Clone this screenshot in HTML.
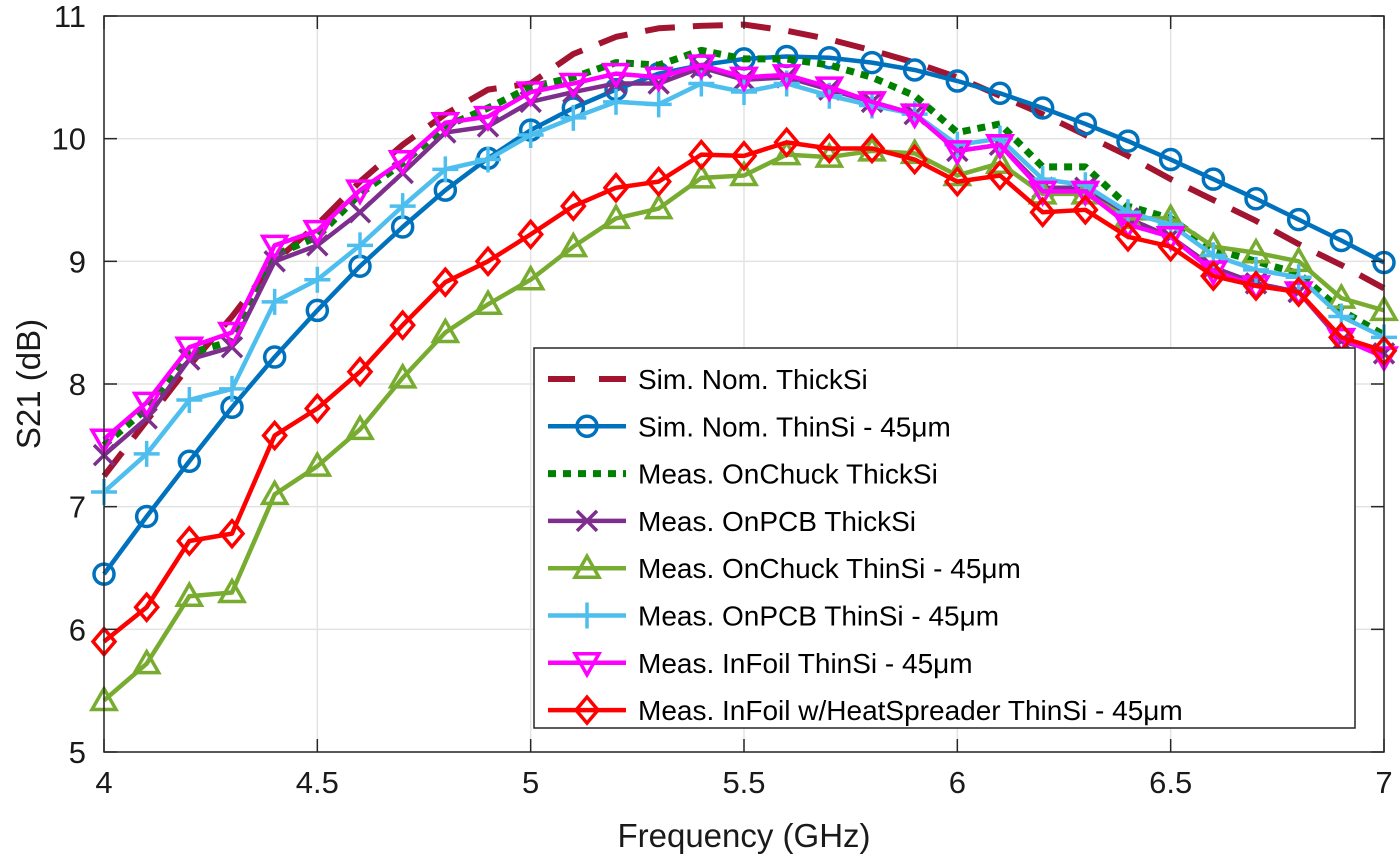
<!DOCTYPE html>
<html><head><meta charset="utf-8"><style>
html,body{margin:0;padding:0;background:#fff;}
svg{display:block;font-family:"Liberation Sans",sans-serif;}
</style></head><body>
<svg id="chart" width="1400" height="868" viewBox="0 0 1400 868" xmlns="http://www.w3.org/2000/svg">
<g id="grid"></g>
<g id="series"></g>
<g id="axes"></g>
<g id="legend"></g>
</svg>
<script>
const freqs = [4.0,4.1,4.2,4.3,4.4,4.5,4.6,4.7,4.8,4.9,5.0,5.1,5.2,5.3,5.4,5.5,5.6,5.7,5.8,5.9,6.0,6.1,6.2,6.3,6.4,6.5,6.6,6.7,6.8,6.9,7.0];
const simThick = [7.25,7.7,8.15,8.55,9.0,9.3,9.65,9.95,10.2,10.4,10.45,10.69,10.83,10.9,10.92,10.93,10.88,10.81,10.72,10.62,10.5,10.35,10.2,10.03,9.86,9.67,9.5,9.33,9.14,8.97,8.78];
const simThin = [6.45,6.92,7.37,7.81,8.22,8.6,8.96,9.28,9.58,9.84,10.07,10.25,10.4,10.53,10.6,10.65,10.67,10.66,10.62,10.56,10.47,10.37,10.25,10.12,9.98,9.83,9.67,9.51,9.34,9.17,8.99];
const chuckThick = [7.5,7.8,8.25,8.35,9.05,9.2,9.55,9.8,10.1,10.25,10.42,10.5,10.62,10.6,10.72,10.65,10.65,10.6,10.5,10.35,10.05,10.12,9.77,9.77,9.45,9.35,9.1,9.0,8.9,8.6,8.4];
const pcbThick = [7.42,7.72,8.2,8.3,9.0,9.13,9.4,9.72,10.05,10.1,10.3,10.38,10.45,10.45,10.58,10.48,10.5,10.4,10.3,10.2,9.9,9.95,9.6,9.6,9.35,9.2,8.95,8.82,8.75,8.35,8.25];
const chuckThin = [5.42,5.72,6.27,6.3,7.1,7.33,7.63,8.05,8.42,8.65,8.85,9.12,9.35,9.43,9.68,9.7,9.87,9.85,9.9,9.88,9.7,9.8,9.55,9.55,9.35,9.35,9.12,9.07,9.0,8.7,8.6];
const pcbThin = [7.12,7.43,7.87,7.96,8.67,8.85,9.13,9.45,9.75,9.83,10.03,10.17,10.3,10.28,10.45,10.38,10.45,10.35,10.27,10.2,9.95,10.0,9.67,9.62,9.4,9.3,9.05,8.93,8.87,8.55,8.38];
const foilThin = [7.55,7.85,8.3,8.42,9.13,9.25,9.58,9.82,10.13,10.18,10.38,10.45,10.53,10.5,10.6,10.5,10.52,10.42,10.3,10.2,9.9,9.95,9.57,9.57,9.3,9.2,8.92,8.8,8.75,8.37,8.22];
const foilHS = [5.9,6.18,6.72,6.78,7.58,7.8,8.1,8.48,8.83,9.0,9.22,9.45,9.6,9.65,9.87,9.86,9.97,9.92,9.92,9.83,9.65,9.7,9.4,9.42,9.2,9.12,8.88,8.8,8.75,8.38,8.27];
const xTicks = [4,4.5,5,5.5,6,6.5,7];
const xTickLabels = ["4","4.5","5","5.5","6","6.5","7"];
const yTicks = [5,6,7,8,9,10,11];
const yTickLabels = ["5","6","7","8","9","10","11"];
const seriesNames = ["Sim. Nom. ThickSi","Sim. Nom. ThinSi - 45\u03bcm","Meas. OnChuck ThickSi","Meas. OnPCB ThickSi","Meas. OnChuck ThinSi - 45\u03bcm","Meas. OnPCB ThinSi - 45\u03bcm","Meas. InFoil ThinSi - 45\u03bcm","Meas. InFoil w/HeatSpreader ThinSi - 45\u03bcm"];

const X0=104,X1=1384,Y0=752,Y1=16;
const xs=v=>X0+(v-4)/3*(X1-X0);
const ys=v=>Y0-(v-5)/6*(Y0-Y1);
const NS="http://www.w3.org/2000/svg";
function mk(tag,attrs,parent){const e=document.createElementNS(NS,tag);for(const k in attrs)e.setAttribute(k,attrs[k]);parent.appendChild(e);return e;}
const grid=document.getElementById('grid'),axes=document.getElementById('axes'),ser=document.getElementById('series'),leg=document.getElementById('legend');

xTicks.forEach((t,i)=>{
  const g=mk('line',{x1:xs(t),x2:xs(t),y1:Y1,y2:Y0,stroke:'#e3e3e3','stroke-width':1.5},grid);
  
  mk('line',{x1:xs(t),x2:xs(t),y1:Y0,y2:Y0-13,stroke:'#262626','stroke-width':1.5},axes);
  mk('line',{x1:xs(t),x2:xs(t),y1:Y1,y2:Y1+13,stroke:'#262626','stroke-width':1.5},axes);
  const tx=mk('text',{x:xs(t),y:Y0+41,'font-size':31,'text-anchor':'middle',fill:'#1a1a1a'},axes);
  tx.textContent=xTickLabels[i];
  
});
yTicks.forEach((t,i)=>{
  const g=mk('line',{x1:X0,x2:X1,y1:ys(t),y2:ys(t),stroke:'#e3e3e3','stroke-width':1.5},grid);
  
  mk('line',{x1:X0,x2:X0+13,y1:ys(t),y2:ys(t),stroke:'#262626','stroke-width':1.5},axes);
  mk('line',{x1:X1,x2:X1-13,y1:ys(t),y2:ys(t),stroke:'#262626','stroke-width':1.5},axes);
  const tx=mk('text',{x:X0-18,y:ys(t)+11,'font-size':31,'text-anchor':'end',fill:'#1a1a1a'},axes);
  tx.textContent=yTickLabels[i];
  
});
const frame=mk('rect',{x:X0,y:Y1,width:X1-X0,height:Y0-Y1,fill:'none',stroke:'#262626','stroke-width':1.5},axes);

const xt=mk('text',{x:744,y:847,'font-size':33,'text-anchor':'middle',fill:'#1a1a1a'},axes);
xt.textContent='Frequency (GHz)';

const yt=mk('text',{x:0,y:0,'font-size':33,'text-anchor':'middle',fill:'#1a1a1a',transform:'translate(40,384) rotate(-90)'},axes);
yt.textContent='S21 (dB)';


function marker(type,x,y,color,parent){
  const r=10,sw=3.5;
  if(type==='o')return mk('circle',{cx:x,cy:y,r:r,fill:'none',stroke:color,'stroke-width':sw},parent);
  if(type==='x')return mk('path',{d:`M${x-r} ${y-r}L${x+r} ${y+r}M${x-r} ${y+r}L${x+r} ${y-r}`,stroke:color,'stroke-width':sw,fill:'none'},parent);
  if(type==='+')return mk('path',{d:`M${x-13} ${y}L${x+13} ${y}M${x} ${y-13}L${x} ${y+13}`,stroke:color,'stroke-width':sw,fill:'none'},parent);
  if(type==='^')return mk('path',{d:`M${x} ${y-12}L${x+12} ${y+9}L${x-12} ${y+9}Z`,stroke:color,'stroke-width':sw,fill:'none'},parent);
  if(type==='v')return mk('path',{d:`M${x} ${y+12}L${x+12} ${y-9}L${x-12} ${y-9}Z`,stroke:color,'stroke-width':sw,fill:'none'},parent);
  if(type==='d')return mk('path',{d:`M${x} ${y-13}L${x+11} ${y}L${x} ${y+13}L${x-11} ${y}Z`,stroke:color,'stroke-width':sw,fill:'none'},parent);
}
const defs=[
 {data:simThick,color:'#A2142F',dash:'30 18',w:6,m:null,name:'series-sim-thicksi'},
 {data:simThin,color:'#0072BD',dash:null,w:4.5,m:'o',name:'series-sim-thinsi'},
 {data:chuckThick,color:'#008000',dash:'8 7',w:7,m:null,name:'series-onchuck-thicksi'},
 {data:pcbThick,color:'#7E2F8E',dash:null,w:4.5,m:'x',name:'series-onpcb-thicksi'},
 {data:chuckThin,color:'#77AC30',dash:null,w:4.5,m:'^',name:'series-onchuck-thinsi'},
 {data:pcbThin,color:'#4DBEEE',dash:null,w:4.5,m:'+',name:'series-onpcb-thinsi'},
 {data:foilThin,color:'#FF00FF',dash:null,w:4.5,m:'v',name:'series-infoil-thinsi'},
 {data:foilHS,color:'#FF0000',dash:null,w:4.5,m:'d',name:'series-infoil-heatspreader'}
];
defs.forEach(s=>{
  const g=mk('g',{},ser);
  
  
  const pts=s.data.map((v,i)=>xs(freqs[i])+','+ys(v)).join(' ');
  const a={points:pts,fill:'none',stroke:s.color,'stroke-width':s.w,'stroke-linejoin':'round'};
  if(s.dash)a['stroke-dasharray']=s.dash;
  mk('polyline',a,g);
  if(s.m)s.data.forEach((v,i)=>{const m=marker(s.m,xs(freqs[i]),ys(v),s.color,g);
    });
});
const box=mk('rect',{x:534,y:348,width:821,height:380,fill:'#fff',stroke:'#262626','stroke-width':1.5},leg);

defs.forEach((s,i)=>{
  const y=379+i*47.3;
  const g=mk('g',{},leg);
  
  
  const a={x1:548,x2:626,y1:y,y2:y,stroke:s.color,'stroke-width':s.w};
  if(s.dash)a['stroke-dasharray']=s.dash==='30 18'?'27 24':'8 7';
  mk('line',a,g);
  if(s.m)marker(s.m,587,y,s.color,g);
  const t=mk('text',{x:638,y:y+10,'font-size':28,fill:'#000'},g);
  t.textContent=seriesNames[i];
});
</script>
</body></html>
